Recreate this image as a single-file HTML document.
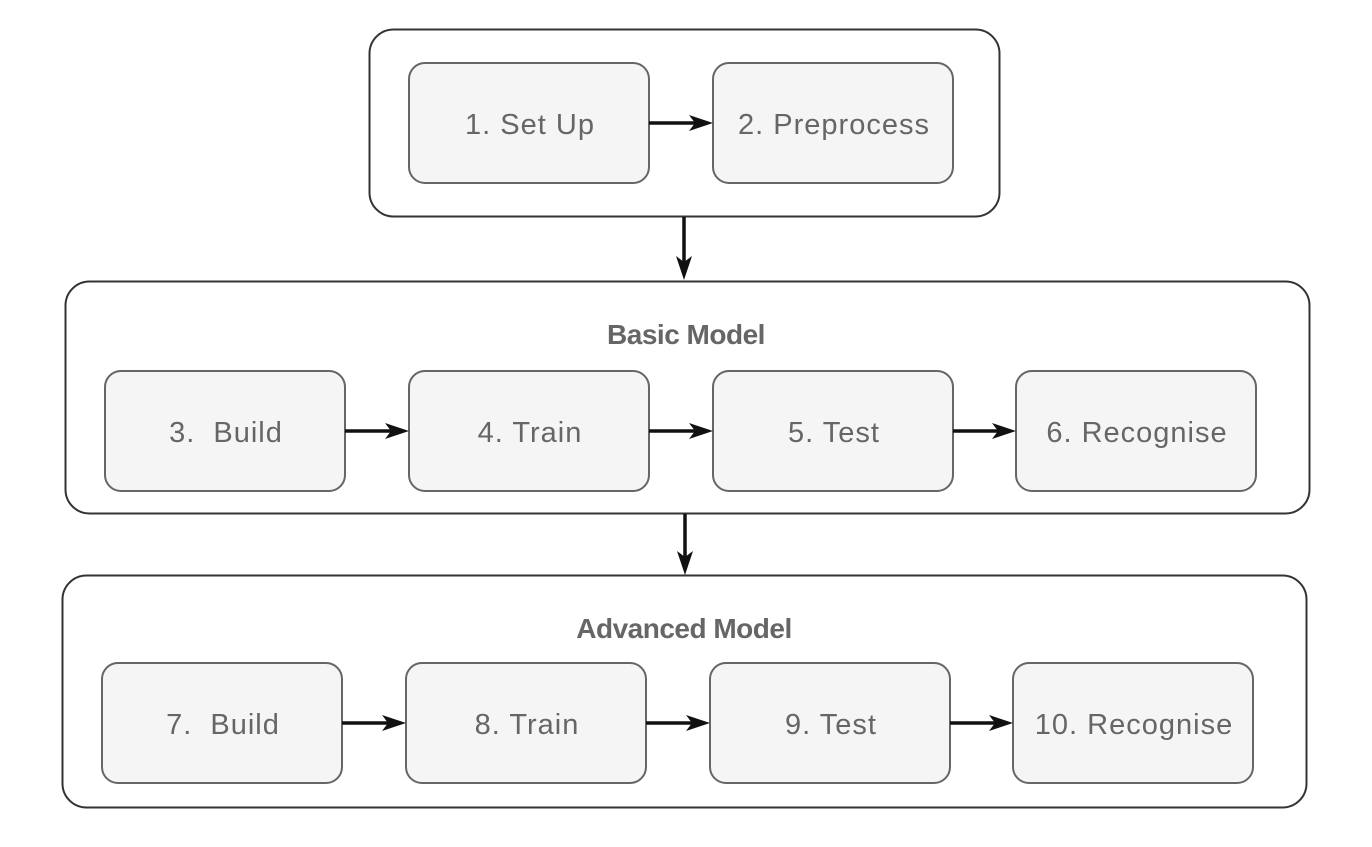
<!DOCTYPE html>
<html><head><meta charset="utf-8"><style>
html,body{margin:0;padding:0;background:#fff;}
svg text{font-family:"Liberation Sans",sans-serif;fill:#666;}
</style></head><body>
<svg width="1372" height="842" viewBox="0 0 1372 842" xmlns="http://www.w3.org/2000/svg">
<g fill="none" stroke="#333" stroke-width="2">
<rect x="369.5" y="29.5" width="630" height="187" rx="24"/>
<rect x="65.5" y="281.5" width="1244" height="232" rx="24"/>
<rect x="62.5" y="575.5" width="1244" height="232" rx="24"/>
</g>
<g fill="#f5f5f5" stroke="#666" stroke-width="2">
<rect x="409" y="63" width="240" height="120" rx="16"/>
<rect x="713" y="63" width="240" height="120" rx="16"/>
<rect x="105" y="371" width="240" height="120" rx="16"/>
<rect x="409" y="371" width="240" height="120" rx="16"/>
<rect x="713" y="371" width="240" height="120" rx="16"/>
<rect x="1016" y="371" width="240" height="120" rx="16"/>
<rect x="102" y="663" width="240" height="120" rx="16"/>
<rect x="406" y="663" width="240" height="120" rx="16"/>
<rect x="710" y="663" width="240" height="120" rx="16"/>
<rect x="1013" y="663" width="240" height="120" rx="16"/>
</g>
<g stroke="#111" stroke-width="3.5" fill="none">
<line x1="649" y1="123" x2="700" y2="123"/>
<line x1="345" y1="431" x2="396" y2="431"/>
<line x1="649" y1="431" x2="700" y2="431"/>
<line x1="953" y1="431" x2="1003" y2="431"/>
<line x1="342" y1="723" x2="393" y2="723"/>
<line x1="646" y1="723" x2="697" y2="723"/>
<line x1="950" y1="723" x2="1000" y2="723"/>
<line x1="684" y1="217" x2="684" y2="266"/>
<line x1="685" y1="514" x2="685" y2="561"/>
</g>
<g fill="#111">
<path d="M713 123 L689 115 L695 123 L689 131Z"/>
<path d="M409 431 L385 423 L391 431 L385 439Z"/>
<path d="M713 431 L689 423 L695 431 L689 439Z"/>
<path d="M1016 431 L992 423 L998 431 L992 439Z"/>
<path d="M406 723 L382 715 L388 723 L382 731Z"/>
<path d="M710 723 L686 715 L692 723 L686 731Z"/>
<path d="M1013 723 L989 715 L995 723 L989 731Z"/>
<path d="M684 280 L676 256 L684 262 L692 256Z"/>
<path d="M685 575 L677 551 L685 557 L693 551Z"/>
</g>
<g font-size="29" text-anchor="middle" letter-spacing="1">
<text x="530" y="134">1. Set Up</text>
<text x="834" y="134">2. Preprocess</text>
<text x="226" y="442" xml:space="preserve">3.  Build</text>
<text x="530" y="442">4. Train</text>
<text x="834" y="442">5. Test</text>
<text x="1137" y="442">6. Recognise</text>
<text x="223" y="734" xml:space="preserve">7.  Build</text>
<text x="527" y="734">8. Train</text>
<text x="831" y="734">9. Test</text>
<text x="1134" y="734">10. Recognise</text>
</g>
<g font-size="28" font-weight="bold" text-anchor="middle" letter-spacing="-0.5">
<text x="686" y="344">Basic Model</text>
<text x="684" y="638">Advanced Model</text>
</g>
</svg>
</body></html>
